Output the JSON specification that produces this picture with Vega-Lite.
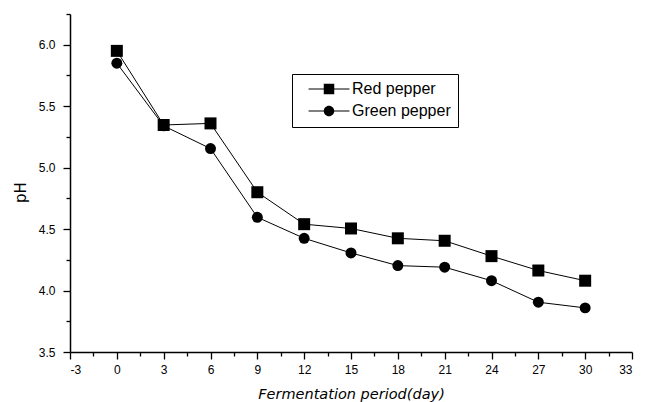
{
  "$schema": "https://vega.github.io/schema/vega-lite/v6.json",
  "autosize": {"type": "none"},
  "width": 562,
  "height": 338,
  "padding": {"left": 70, "top": 14, "right": 15, "bottom": 50},
  "background": "white",
  "config": {
    "view": {"stroke": null},
    "font": "Liberation Sans",
    "axis": {"grid": false, "domainColor": "black", "tickColor": "black", "labelColor": "black", "titleColor": "black", "labelFontSize": 12, "titleFontSize": 15, "titleFont": "DejaVu Sans", "titleFontWeight": "normal", "domainWidth": 1.5, "tickWidth": 1.3, "tickSize": 7}
  },
  "data": {"values": [
    {"day": 0, "pH": 5.95, "sample": "Red pepper"},
    {"day": 3, "pH": 5.347, "sample": "Red pepper"},
    {"day": 6, "pH": 5.36, "sample": "Red pepper"},
    {"day": 9, "pH": 4.80, "sample": "Red pepper"},
    {"day": 12, "pH": 4.54, "sample": "Red pepper"},
    {"day": 15, "pH": 4.505, "sample": "Red pepper"},
    {"day": 18, "pH": 4.425, "sample": "Red pepper"},
    {"day": 21, "pH": 4.405, "sample": "Red pepper"},
    {"day": 24, "pH": 4.28, "sample": "Red pepper"},
    {"day": 27, "pH": 4.163, "sample": "Red pepper"},
    {"day": 30, "pH": 4.08, "sample": "Red pepper"},
    {"day": 0, "pH": 5.85, "sample": "Green pepper"},
    {"day": 3, "pH": 5.34, "sample": "Green pepper"},
    {"day": 6, "pH": 5.155, "sample": "Green pepper"},
    {"day": 9, "pH": 4.596, "sample": "Green pepper"},
    {"day": 12, "pH": 4.425, "sample": "Green pepper"},
    {"day": 15, "pH": 4.306, "sample": "Green pepper"},
    {"day": 18, "pH": 4.203, "sample": "Green pepper"},
    {"day": 21, "pH": 4.19, "sample": "Green pepper"},
    {"day": 24, "pH": 4.08, "sample": "Green pepper"},
    {"day": 27, "pH": 3.905, "sample": "Green pepper"},
    {"day": 30, "pH": 3.859, "sample": "Green pepper"}
  ]},
  "resolve": {"axis": {"x": "independent", "y": "independent"}},
  "layer": [
    {"mark": {"type": "line", "color": "black", "strokeWidth": 1},
      "encoding": {
        "x": {"field": "day", "type": "quantitative", "scale": {"domain": [-3, 33], "nice": false, "zero": false},
          "axis": {"orient": "bottom", "values": [-3, 0, 3, 6, 9, 12, 15, 18, 21, 24, 27, 30, 33], "labelExpr": "'' + datum.value", "title": "Fermentation period(day)", "titleFontStyle": "italic", "titleFontSize": 14.5, "titlePadding": 12, "labelPadding": 5}},
        "y": {"field": "pH", "type": "quantitative", "scale": {"domain": [3.5, 6.25], "nice": false, "zero": false},
          "axis": {"orient": "left", "values": [3.5, 4.0, 4.5, 5.0, 5.5, 6.0], "format": ".1f", "title": "pH", "labelPadding": 8, "titleX": -50, "titleY": 178, "titleAngle": -90, "titleAlign": "center", "titleBaseline": "middle"}},
        "detail": {"field": "sample"}
      }},
    {"mark": {"type": "point", "opacity": 0, "filled": true, "color": "black"},
      "encoding": {
        "x": {"field": "day", "type": "quantitative",
          "axis": {"orient": "bottom", "values": [-1.5, 1.5, 4.5, 7.5, 10.5, 13.5, 16.5, 19.5, 22.5, 25.5, 28.5, 31.5], "labels": false, "domain": false, "title": null, "tickSize": 4}},
        "y": {"field": "pH", "type": "quantitative",
          "axis": {"orient": "left", "values": [3.75, 4.25, 4.75, 5.25, 5.75, 6.25], "labels": false, "domain": false, "title": null, "tickSize": 4}},
        "shape": {"field": "sample", "type": "nominal",
          "scale": {"domain": ["Red pepper", "Green pepper"], "range": ["M-3.9,-0.1H3.9V0.1H-3.9Z M-1,-1H1V1H-1Z", "M-3.9,-0.1H3.9V0.1H-3.9Z M1,0A1,1,0,1,1,-1,0A1,1,0,1,1,1,0Z"]},
          "legend": {"title": null, "orient": "none", "legendX": 222, "legendY": 60, "strokeColor": "black", "padding": 7, "labelFontSize": 16, "labelColor": "black", "symbolSize": 110, "symbolFillColor": "black", "symbolOpacity": 1, "symbolOffset": 22, "rowPadding": 4, "labelOffset": 15, "fillColor": "white"}}
      }},
    {"transform": [{"filter": "datum.sample === 'Red pepper'"}],
      "mark": {"type": "point", "filled": true, "color": "black", "opacity": 1, "size": 144, "shape": "square"},
      "encoding": {
        "x": {"field": "day", "type": "quantitative", "axis": null},
        "y": {"field": "pH", "type": "quantitative", "axis": null}
      }},
    {"transform": [{"filter": "datum.sample === 'Green pepper'"}],
      "mark": {"type": "point", "filled": true, "color": "black", "opacity": 1, "size": 120, "shape": "circle"},
      "encoding": {
        "x": {"field": "day", "type": "quantitative", "axis": null},
        "y": {"field": "pH", "type": "quantitative", "axis": null}
      }}
  ]
}
